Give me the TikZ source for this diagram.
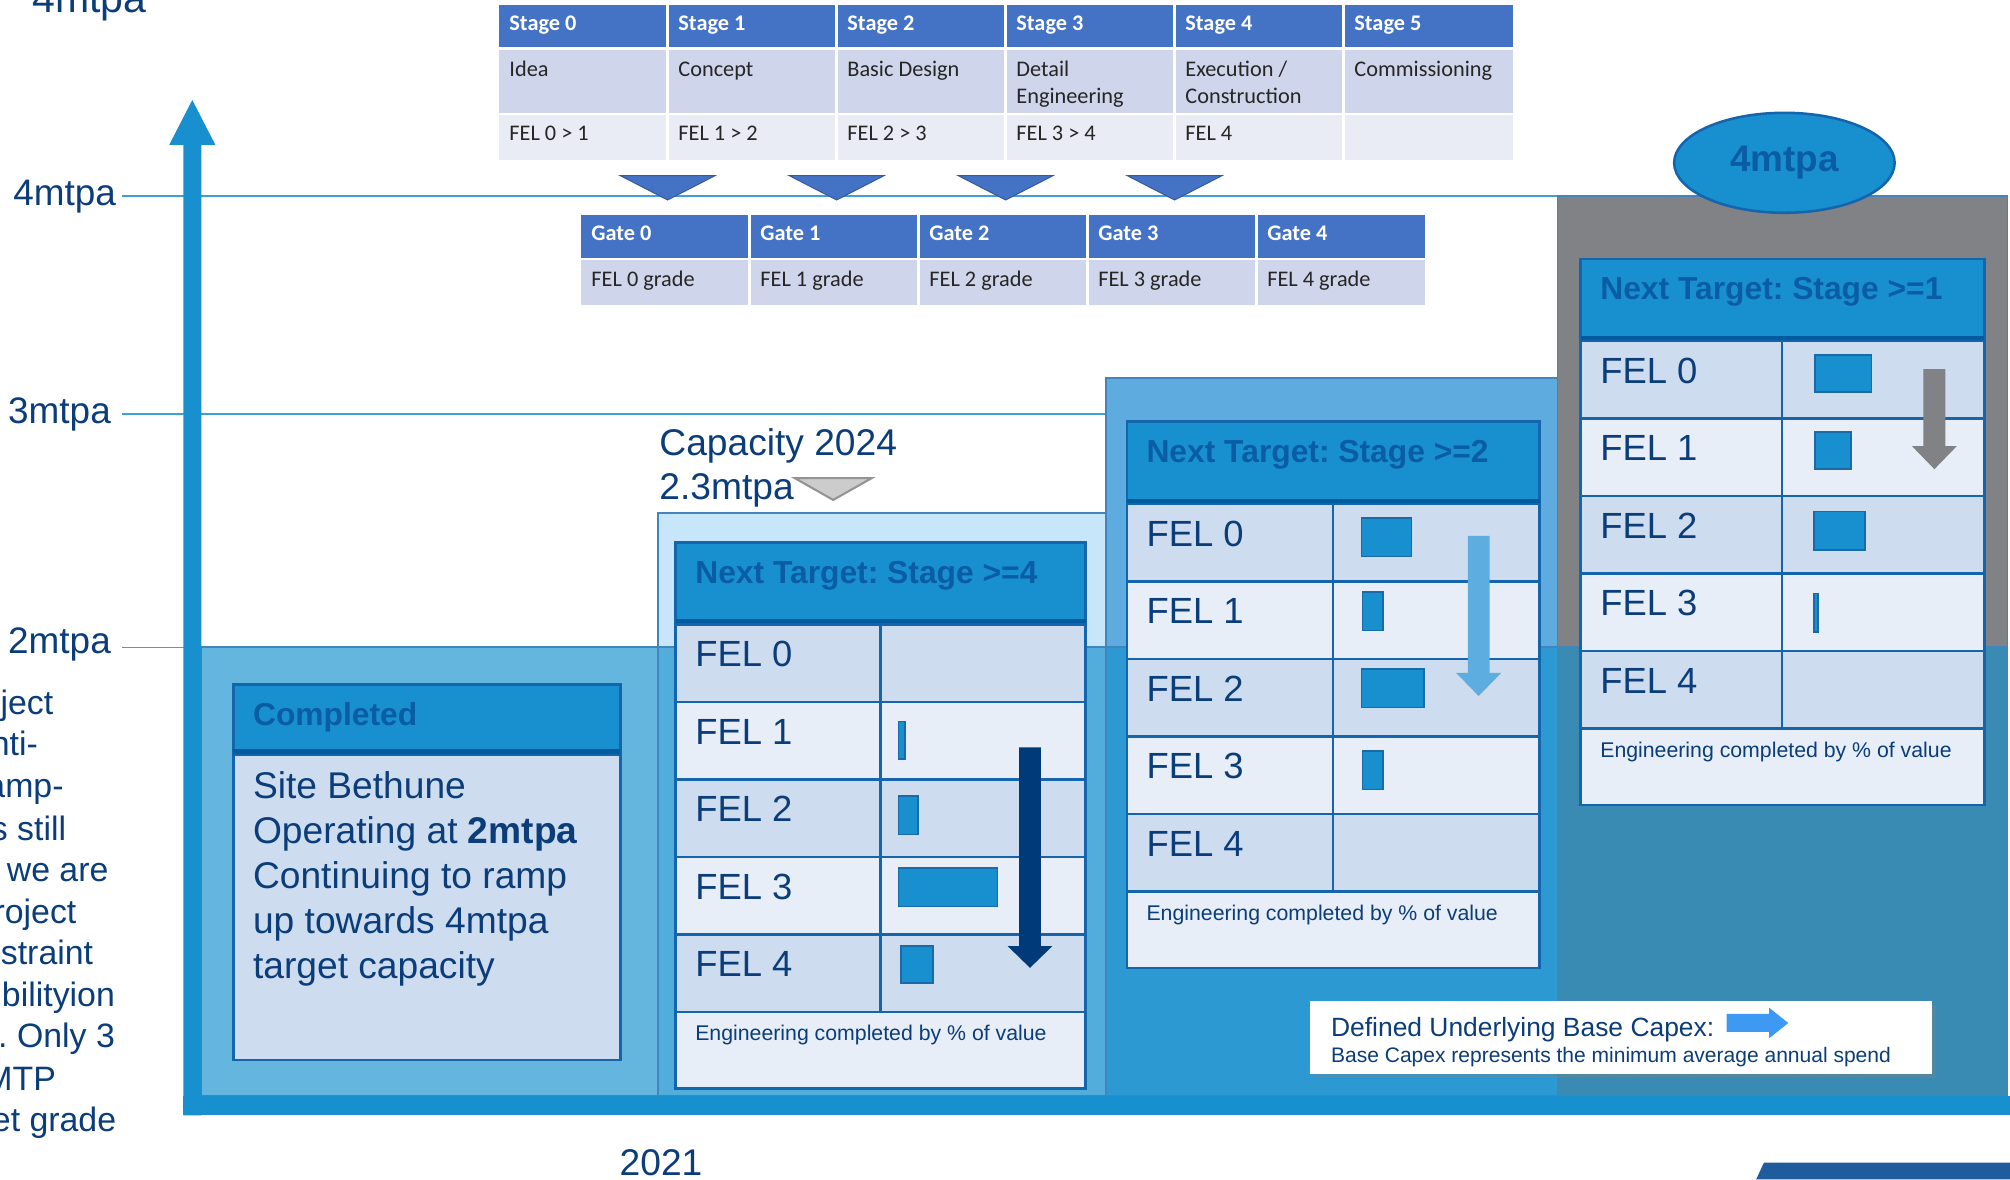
\documentclass[tikz,border=0pt]{standalone}
\usepackage{fontspec}
\setmainfont{Liberation Sans}
\newfontfamily\calfont{Carlito}
\usetikzlibrary{positioning,shapes.geometric,shadows}
\frenchspacing

\definecolor{navy}{HTML}{0A3D7A}
\definecolor{hdrtext}{HTML}{0A5CA5}
\definecolor{hdrfill}{HTML}{1890D0}
\definecolor{hdrline}{HTML}{005B9F}
\definecolor{tabline}{HTML}{1565AD}
\definecolor{rowdark}{HTML}{CDDCEE}
\definecolor{rowlight}{HTML}{E7EEF8}
\definecolor{barline}{HTML}{1A6AA8}
\definecolor{steptwo}{HTML}{C8E6F9}
\definecolor{stepthree}{HTML}{5EACDF}
\definecolor{stepfour}{HTML}{808285}
\definecolor{bandblue}{HTML}{1590CD}
\definecolor{levelline}{HTML}{3FA0D8}
\definecolor{stagehead}{HTML}{4472C4}
\definecolor{stagerow}{HTML}{CFD5EA}
\definecolor{stagerowb}{HTML}{E9EBF5}
\definecolor{legendarrow}{HTML}{3D99F2}
\definecolor{cornerblue}{HTML}{1F5C9E}
\definecolor{arrownavy}{HTML}{003A78}
\definecolor{arrowlight}{HTML}{5DADE0}

\tikzset{
  lvl/.style={draw=levelline, line width=0.6pt},
  lvllabel/.style={font=\fontsize{14.4}{16}\selectfont, text=navy, inner sep=0pt, anchor=base west},
  stepborder/.style={draw=tabline!80, line width=0.7pt},
  tabhead/.style={fill=hdrfill, draw=tabline, line width=1pt},
  headtext/.style={font=\bfseries\fontsize{12.4}{14}\selectfont, text=hdrtext, inner sep=0pt, anchor=base west},
  felrow/.style={draw=tabline, line width=1pt},
  feltext/.style={font=\fontsize{14.2}{16}\selectfont, text=navy, inner sep=0pt, anchor=base west},
  foottext/.style={font=\fontsize{8.3}{10}\selectfont, text=navy, inner sep=0pt, anchor=base west},
  bigtext/.style={font=\fontsize{14.5}{17}\selectfont, text=navy, inner sep=0pt, anchor=base west},
  sidetext/.style={font=\fontsize{13.2}{15}\selectfont, text=navy, inner sep=0pt, anchor=base east},
  bar/.style={fill=hdrfill, draw=barline, line width=0.6pt},
  stagehd/.style={font=\calfont\bfseries\fontsize{8.7}{10.5}\selectfont, text=white, inner sep=0pt, anchor=base west},
  stagetext/.style={font=\calfont\fontsize{8.7}{10.5}\selectfont, text=black!85, inner sep=0pt, anchor=base west},
  gatetri/.style={fill=stagehead, draw=stagehead!80!black, line width=0.4pt},
}

% #1 name, #2 left, #3 top, #4 width, #5 first column, #6 title
\newcommand\feltable[6]{%
  \draw[tabhead] (#2,#3) rectangle ++(#4,62);
  \fill[hdrline] (#2,#3+60) rectangle ++(#4,4);
  \node[headtext] (#1-head) at (#2+15,#3+32) {#6};
  \foreach \r/\rc in {0/rowdark,1/rowlight,2/rowdark,3/rowlight,4/rowdark} {
    \draw[felrow, fill=\rc] (#2,#3+64+60.5*\r) rectangle ++(#5,60.5);
    \draw[felrow, fill=\rc] (#2+#5,#3+64+60.5*\r) rectangle ++(#4-#5,60.5);
    \node[feltext] (#1-fel\r) at (#2+15,#3+64+60.5*\r+33) {FEL \r};
  }
  \draw[felrow, fill=rowlight] (#2,#3+366.5) rectangle ++(#4,59.5);
  \node[foottext] (#1-foot) at (#2+15,#3+389) {Engineering completed by \% of value};
}

% #1 centre x, #2 top, #3 head base, #4 tip, #5 colour
\newcommand\dnarrow[5]{%
  \fill[#5] (#1-8.5,#2) -- (#1+8.5,#2) -- (#1+8.5,#3) -- (#1+17.5,#3) -- (#1,#4)
    -- (#1-17.5,#3) -- (#1-8.5,#3) -- cycle;
}

\begin{document}
\begin{tikzpicture}[x=0.5pt,y=-0.5pt]
\useasboundingbox (0,0) rectangle (1568,920);
\clip (0,0) rectangle (1568,920);

% level lines and labels
\draw[lvl] (95,153) -- (1215,153);
\draw[lvl] (95,323) -- (863,323);
\draw[lvl] (95,505) -- (157,505);
\node[lvllabel] (lvl4) at (10,160) {4mtpa};
\node[lvllabel] (lvl3) at (6,330) {3mtpa};
\node[lvllabel] (lvl2) at (6,510) {2mtpa};
\node[font=\fontsize{16}{18}\selectfont, text=navy, inner sep=0pt, anchor=base west] (title) at (25,10) {4mtpa};

% capacity steps
\draw[stepborder, fill=steptwo] (513,400) rectangle (863,855);
\draw[stepborder, fill=stepthree] (863,295) rectangle (1215,855);
\draw[stepborder, fill=stepfour] (1215,153) rectangle (1566,855);
\draw[stepborder, fill=bandblue, fill opacity=0.66] (157,505) rectangle (1566,855);
\draw[stepborder] (513,505) -- (513,855) (863,505) -- (863,855) (1215,505) -- (1215,855);

% axis
\fill[hdrfill] (143,855) rectangle (1568,870);
\fill[hdrfill] (157,870) -- (143,870) -- (143,113) -- (132,113) -- (150,78) -- (168,113) -- (157,113) -- cycle;
\fill[cornerblue] (1370,920) -- (1376,907) -- (1568,907) -- (1568,920) -- cycle;

% stage table
\foreach \i/\la/\lb/\fel in {0/Idea/{}/FEL 0 > 1, 1/Concept/{}/FEL 1 > 2, 2/Basic Design/{}/FEL 2 > 3,
    3/Detail/Engineering/FEL 3 > 4, 4/{Execution /}/Construction/FEL 4, 5/Commissioning/{}/{}} {
  \fill[stagehead] (389+131.83*\i,4) rectangle ++(131.83,33);
  \fill[stagerow] (389+131.83*\i,39) rectangle ++(131.83,49);
  \fill[stagerowb] (389+131.83*\i,90) rectangle ++(131.83,35);
  \node[stagehd] (st\i) at (397+131.83*\i,23.6) {Stage \i};
  \node[stagetext] (st\i-a) at (397+131.83*\i,60) {\la};
  \node[stagetext] (st\i-b) at (397+131.83*\i,81) {\lb};
  \node[stagetext] (st\i-c) at (397+131.83*\i,109.6) {\fel};
}
\foreach \i in {1,...,5}
  \draw[white, line width=1pt] (389+131.83*\i,4) -- ++(0,121);

% gates
\foreach \i in {1,...,4}
  \draw[gatetri] (389+131.83*\i-37,137) -- ++(74,0) -- ++(-37,19) -- cycle;
\foreach \i in {0,...,4} {
  \fill[stagehead] (453+131.8*\i,168) rectangle ++(131.8,33);
  \fill[stagerow] (453+131.8*\i,203) rectangle ++(131.8,35);
  \node[stagehd] (gt\i) at (461+131.8*\i,187.6) {Gate \i};
  \node[stagetext] (gt\i-a) at (461+131.8*\i,223.6) {FEL \i{} grade};
}
\foreach \i in {1,...,4}
  \draw[white, line width=1pt] (453+131.8*\i,168) -- ++(0,70);

% completed box
\draw[tabhead] (182,534) rectangle (484,587);
\fill[hdrline] (182,584) rectangle (484,589);
\draw[felrow, fill=rowdark] (182,589) rectangle (484,827);
\node[headtext] (done-head) at (197,566) {Completed};
\foreach \ln [count=\i from 0] in {Site Bethune, Operating at \textbf{2mtpa}, Continuing to ramp,
    up towards 4mtpa, target capacity}
  \node[bigtext] (done-l\i) at (197,623+35*\i) {\ln};

% target tables
\feltable{tb}{527}{423}{320}{160}{Next Target: Stage >=4}
\feltable{tc}{879}{329}{322}{161}{Next Target: Stage >=2}
\feltable{td}{1233}{202}{315}{157}{Next Target: Stage >=1}

\foreach \xa/\ya/\xb/\yb in {701/563/706/592, 701/621/716/651, 701/677/778/707, 703/738/728/767,
    1062/404/1101/434, 1063/462/1079/492, 1062/522/1111/552, 1063/586/1079/616,
    1416/277/1460/306, 1416/337/1444/366, 1415/399/1455/429, 1415/463/1418/493}
  \draw[bar] (\xa,\ya) rectangle (\xb,\yb);

\dnarrow{803.5}{583}{738}{755}{arrownavy}
\dnarrow{1153.5}{418}{525}{543}{arrowlight}
\dnarrow{1509}{288}{348}{366}{stepfour}

% target capacity
\node[ellipse, minimum width=86pt, minimum height=39pt, inner sep=0pt, fill=hdrfill, draw=tabline,
  line width=1pt, font=\bfseries\fontsize{14.4}{16}\selectfont, text=hdrtext] (cap4) at (1392,127) {4mtpa};

% capacity 2024
\node[bigtext] (cap24) at (514,355.5) {Capacity 2024};
\node[bigtext] (cap23) at (514,390) {2.3mtpa};
\draw[gray!85, fill=gray!40, line width=0.8pt] (620,373) -- (680,373) -- (650,390) -- cycle;

\node[bigtext] (year) at (483,917) {2021};

% legend
\node[fill=white, minimum width=242.5pt, minimum height=28.5pt, inner sep=0pt,
  drop shadow={opacity=0.35, shadow xshift=1.5pt, shadow yshift=-1.5pt}] (legend) at (1264.5,809.5) {};
\node[font=\fontsize{10.3}{12}\selectfont, text=navy, inner sep=0pt, anchor=base west] (legend-a) at (1038,808.5) {Defined Underlying Base Capex:};
\node[font=\fontsize{8.2}{10}\selectfont, text=navy, inner sep=0pt, anchor=base west] (legend-b) at (1038,829) {Base Capex represents the minimum average annual spend};
\fill[legendarrow] (1347,791) -- (1380,791) -- (1380,786) -- (1395,798) -- (1380,810) -- (1380,805) -- (1347,805) -- cycle;

% cut-off side text
\foreach \yy/\xx/\tx [count=\i] in {548/42/ject, 580/30/nti-, 613/50/ramp-, 646/52/s still, 678/85/we are,
    711/60/roject, 743/73/straint, 776/90/bilityion, 808/90/. Only 3, 841/44/MTP, 873/91/et grade}
  \node[sidetext] (side\i) at (\xx,\yy+9.5) {\tx};
\end{tikzpicture}
\end{document}
